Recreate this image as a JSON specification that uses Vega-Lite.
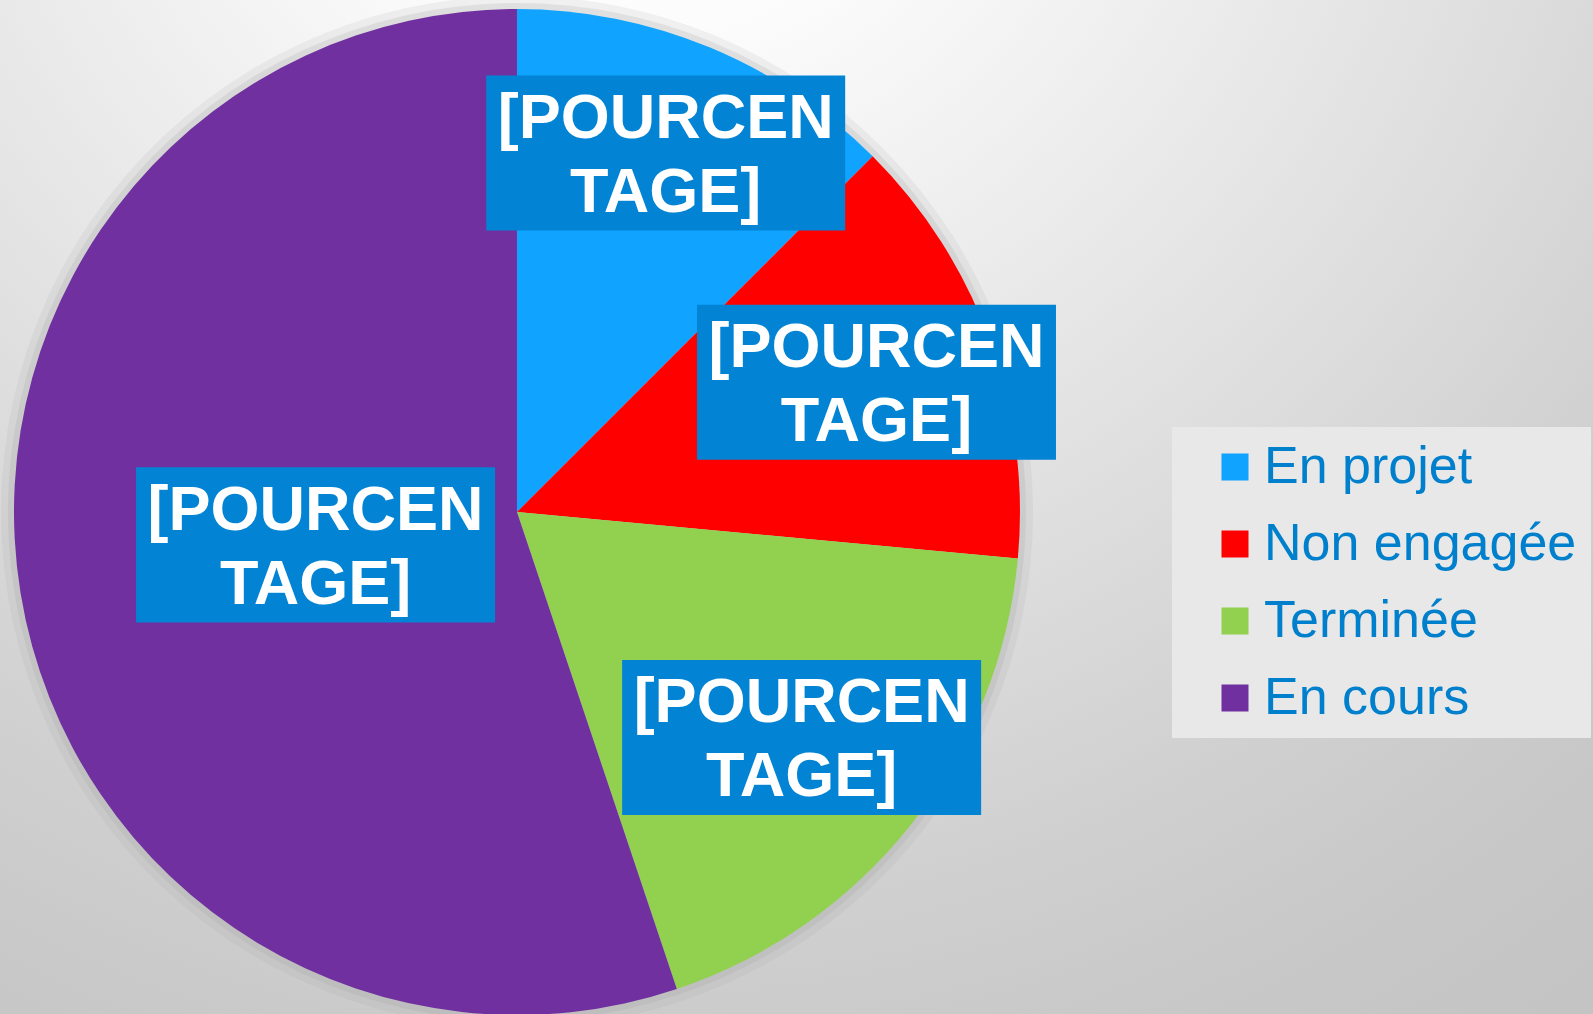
{
  "$schema": "https://vega.github.io/schema/vega-lite/v6.json",
  "width": 1593,
  "height": 1014,
  "autosize": {"type": "none"},
  "padding": 0,
  "background": "#d6d6d6",
  "config": {"view": {"stroke": null}},
  "data": {
    "values": [
      {"statut": "En projet", "nombre": 17},
      {"statut": "Non engagée", "nombre": 19},
      {"statut": "Terminée", "nombre": 25},
      {"statut": "En cours", "nombre": 75}
    ]
  },
  "transform": [
    {"window": [{"op": "row_number", "as": "rang"}]},
    {"joinaggregate": [{"op": "sum", "field": "nombre", "as": "total"}]},
    {"window": [{"op": "sum", "field": "nombre", "as": "cumul"}], "sort": [{"field": "rang"}], "frame": [null, 0]},
    {"calculate": "(datum.cumul - datum.nombre / 2) / datum.total * 2 * PI", "as": "milieu"},
    {"calculate": "0.88 - 0.86 * datum.nombre / datum.total", "as": "rayon"},
    {"calculate": "datum.rayon * sin(datum.milieu)", "as": "lx"},
    {"calculate": "datum.rayon * cos(datum.milieu)", "as": "ly"}
  ],
  "layer": [
    {
      "data": {"values": [{}]},
      "mark": {
        "type": "rect",
        "fill": {
          "gradient": "radial",
          "x1": 0.4, "y1": 0.0, "r1": 0,
          "x2": 0.4, "y2": 0.0, "r2": 1,
          "stops": [
            {"offset": 0, "color": "#ffffff"},
            {"offset": 0.2, "color": "#fcfcfc"},
            {"offset": 0.3, "color": "#f4f4f4"},
            {"offset": 0.4, "color": "#ececec"},
            {"offset": 0.6, "color": "#dcdcdc"},
            {"offset": 0.75, "color": "#d0d0d0"},
            {"offset": 0.88, "color": "#c8c8c8"},
            {"offset": 1, "color": "#c4c4c4"}
          ]
        }
      },
      "encoding": {
        "x": {"value": 0},
        "x2": {"value": "width"},
        "y": {"value": 0},
        "y2": {"value": "height"}
      }
    },
    {
      "mark": {"type": "arc", "radius": 516, "color": "#a0a0a0", "opacity": 0.12},
      "encoding": {
        "x": {"datum": 0, "type": "quantitative", "scale": {"domain": [-1.0278, 2.1392], "nice": false, "zero": false}, "axis": null},
        "y": {"datum": 0, "type": "quantitative", "scale": {"domain": [-0.998, 1.0179], "nice": false, "zero": false}, "axis": null},
        "theta": {"field": "nombre", "type": "quantitative", "stack": true},
        "order": {"field": "rang", "type": "quantitative"}
      }
    },
    {
      "mark": {"type": "arc", "radius": 509, "color": "#a0a0a0", "opacity": 0.2},
      "encoding": {
        "x": {"datum": 0, "type": "quantitative", "scale": {"domain": [-1.0278, 2.1392], "nice": false, "zero": false}, "axis": null},
        "y": {"datum": 0, "type": "quantitative", "scale": {"domain": [-0.998, 1.0179], "nice": false, "zero": false}, "axis": null},
        "theta": {"field": "nombre", "type": "quantitative", "stack": true},
        "order": {"field": "rang", "type": "quantitative"}
      }
    },
    {
      "mark": {"type": "arc", "radius": 503},
      "encoding": {
        "x": {"datum": 0, "type": "quantitative", "scale": {"domain": [-1.0278, 2.1392], "nice": false, "zero": false}, "axis": null},
        "y": {"datum": 0, "type": "quantitative", "scale": {"domain": [-0.998, 1.0179], "nice": false, "zero": false}, "axis": null},
        "theta": {"field": "nombre", "type": "quantitative", "stack": true},
        "order": {"field": "rang", "type": "quantitative"},
        "color": {
          "field": "statut",
          "type": "nominal",
          "scale": {
            "domain": ["En projet", "Non engagée", "Terminée", "En cours"],
            "range": ["#10A3FF", "#FF0000", "#92D050", "#7030A0"]
          },
          "legend": {
            "title": null,
            "orient": "none",
            "legendX": 1172,
            "legendY": 427,
            "symbolType": "square",
            "symbolSize": 729,
            "symbolStrokeWidth": 0,
            "symbolOffset": 23,
            "labelOffset": 3,
            "labelFont": "Liberation Sans",
            "labelFontSize": 52,
            "labelColor": "#0080CC",
            "labelLimit": 0,
            "rowPadding": 25,
            "padding": 14,
            "fillColor": "#e8e8e8"
          }
        }
      }
    },
    {
      "mark": {
        "type": "point",
        "shape": "M-1,-0.432L1,-0.432L1,0.432L-1,0.432Z",
        "size": 128881,
        "filled": true,
        "color": "#0283D4",
        "opacity": 1,
        "strokeWidth": 0
      },
      "encoding": {
        "x": {"field": "lx", "type": "quantitative"},
        "y": {"field": "ly", "type": "quantitative"}
      }
    },
    {
      "mark": {
        "type": "text",
        "text": ["[POURCEN", "TAGE]"],
        "font": "Liberation Sans",
        "fontWeight": "bold",
        "fontSize": 63,
        "lineHeight": 74,
        "dy": -34,
        "color": "#ffffff",
        "align": "center",
        "baseline": "middle"
      },
      "encoding": {
        "x": {"field": "lx", "type": "quantitative"},
        "y": {"field": "ly", "type": "quantitative"}
      }
    }
  ]
}
